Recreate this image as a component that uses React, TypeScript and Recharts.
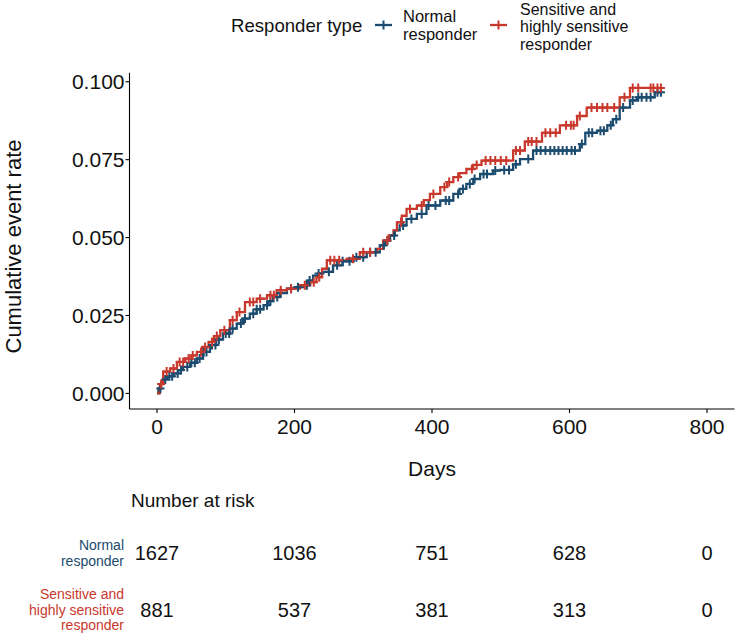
import { ComposedChart, Line, Scatter, XAxis, YAxis } from "recharts";

const BLUE = "#1B4B6E";
const RED = "#C8382C";
const FONT = '"Liberation Sans", Arial, Helvetica, sans-serif';

// Kaplan-Meier step points (day, cumulative event rate)
const normalDays = [0, 2, 6, 9, 15, 24, 31, 38, 48, 58, 67, 77, 86, 96, 106, 116, 125, 135, 145, 155, 162, 169, 179, 189, 200, 213, 220, 227, 235, 242, 256, 270, 286, 305, 324, 332, 339, 346, 353, 363, 378, 392, 412, 431, 440, 450, 460, 470, 489, 499, 518, 528, 547, 615, 623, 640, 655, 663, 673, 688, 698, 724, 735];
const normalRate = [0, 0.0016, 0.0032, 0.0045, 0.0055, 0.0064, 0.0075, 0.0085, 0.0098, 0.0112, 0.0133, 0.0155, 0.0173, 0.0192, 0.0208, 0.0224, 0.024, 0.0256, 0.027, 0.0283, 0.0296, 0.0309, 0.0322, 0.0336, 0.0341, 0.0347, 0.0362, 0.0378, 0.0385, 0.039, 0.0411, 0.0424, 0.0437, 0.0453, 0.0475, 0.049, 0.0507, 0.0523, 0.0539, 0.056, 0.0576, 0.0603, 0.0619, 0.064, 0.0656, 0.0672, 0.0688, 0.0704, 0.0715, 0.0717, 0.0735, 0.0752, 0.0779, 0.08, 0.0836, 0.0843, 0.086, 0.088, 0.0917, 0.094, 0.095, 0.0966, 0.0966];

const sensDays = [0, 4, 9, 19, 29, 41, 50, 58, 66, 75, 83, 92, 106, 116, 128, 145, 160, 174, 189, 208, 223, 232, 240, 247, 276, 295, 320, 329, 337, 344, 349, 356, 363, 378, 388, 397, 412, 422, 431, 440, 450, 460, 472, 518, 535, 560, 586, 611, 625, 673, 688, 735];
const sensRate = [0, 0.003, 0.007, 0.008, 0.0101, 0.0112, 0.0122, 0.0133, 0.0149, 0.0165, 0.0184, 0.0203, 0.0235, 0.0261, 0.0293, 0.0304, 0.0315, 0.0331, 0.0336, 0.0347, 0.0357, 0.0373, 0.04, 0.0427, 0.0432, 0.0453, 0.0464, 0.0491, 0.0507, 0.0523, 0.0549, 0.057, 0.0592, 0.0603, 0.062, 0.064, 0.0662, 0.0678, 0.0694, 0.0707, 0.072, 0.0733, 0.0747, 0.0779, 0.0808, 0.0836, 0.086, 0.089, 0.0917, 0.095, 0.098, 0.098];

// censoring times
const normalCensor = [5, 12, 18, 22, 30, 35, 44, 50, 55, 62, 68, 72, 80, 85, 90, 100, 105, 110, 122, 128, 140, 145, 150, 160, 165, 175, 180, 195, 205, 218, 222, 235, 250, 262, 270, 280, 290, 300, 310, 318, 330, 335, 345, 358, 370, 385, 395, 405, 420, 425, 438, 445, 455, 462, 475, 480, 492, 505, 512, 522, 540, 552, 558, 565, 572, 578, 584, 590, 596, 603, 608, 618, 628, 633, 645, 650, 660, 668, 678, 692, 700, 705, 712, 718, 728, 733];
const sensCensor = [6, 14, 24, 33, 38, 46, 52, 64, 70, 80, 87, 98, 110, 120, 135, 140, 150, 165, 170, 180, 195, 215, 228, 236, 252, 258, 265, 285, 300, 310, 335, 355, 368, 385, 402, 418, 425, 438, 458, 465, 478, 485, 492, 500, 508, 522, 528, 540, 545, 552, 565, 572, 580, 595, 602, 606, 615, 632, 640, 648, 655, 665, 680, 692, 700, 718, 722, 728, 733];

const xTicks = [0, 200, 400, 600, 800];
const yTicks = [0, 0.025, 0.05, 0.075, 0.1];

// number at risk table
const riskDays = [0, 200, 400, 600, 800];
const normalRisk = [1627, 1036, 751, 628, 0];
const sensRisk = [881, 537, 381, 313, 0];

const toSteps = (days: number[], rates: number[]) => days.map((d, i) => ({ day: d, rate: rates[i] }));
const rateAt = (days: number[], rates: number[], t: number) => {
  let r = rates[0];
  for (let i = 0; i < days.length; i++) if (days[i] <= t) r = rates[i];
  return r;
};

const normalSteps = toSteps(normalDays, normalRate);
const sensSteps = toSteps(sensDays, sensRate);
const normalMarks = normalCensor.map(t => ({ day: t, rate: rateAt(normalDays, normalRate, t) }));
const sensMarks = sensCensor.map(t => ({ day: t, rate: rateAt(sensDays, sensRate, t) }));

const riskRows = [
  ...riskDays.map((d, i) => ({ day: d, row: 1, n: normalRisk[i] })),
  ...riskDays.map((d, i) => ({ day: d, row: 0, n: sensRisk[i] })),
];

const plus = (color: string) => (props: any) => {
  const { cx, cy } = props;
  if (cx == null || cy == null) return <g />;
  return (
    <path
      d={`M${cx - 4},${cy}H${cx + 4}M${cx},${cy - 4.5}V${cy + 4.5}`}
      stroke={color}
      strokeWidth={2}
      fill="none"
    />
  );
};

const riskText = (props: any) => {
  const { cx, cy, payload } = props;
  if (cx == null) return <g />;
  return (
    <text x={cx} y={cy} dy="0.35em" textAnchor="middle" fontSize={20} fill="#111" fontFamily={FONT}>
      {payload.n}
    </text>
  );
};

const rowLabels: Record<number, { lines: string[]; color: string; offsets: number[] }> = {
  1: { lines: ["Normal", "responder"], color: BLUE, offsets: [-7.5, 8] },
  0: { lines: ["Sensitive and", "highly sensitive", "responder"], color: RED, offsets: [-15.5, 0, 15.5] },
};

const RowTick = (props: any) => {
  const { x, y, payload } = props;
  const lab = rowLabels[payload.value];
  if (!lab) return <g />;
  return (
    <g>
      {lab.lines.map((l, i) => (
        <text key={i} x={x} y={y + lab.offsets[i]} dy="0.35em" textAnchor="end" fontSize={14} fill={lab.color} fontFamily={FONT}>
          {l}
        </text>
      ))}
    </g>
  );
};

const tickStyle = { fontSize: 21, fill: "#111", fontFamily: FONT };

export default function App() {
  return (
    <div style={{ position: "absolute", left: 0, top: 0, width: 735, height: 634, background: "#fff", fontFamily: FONT }}>
      <div style={{ position: "absolute", left: 0, top: 0 }}>
        <ComposedChart width={735} height={480} margin={{ top: 72.7, right: 0.5, bottom: 0, left: 0 }}>
          <XAxis
            type="number"
            dataKey="day"
            domain={[-40, 840]}
            ticks={xTicks}
            allowDataOverflow
            height={71}
            stroke="#000"
            strokeWidth={1.1}
            tickSize={4}
            tickMargin={6}
            tick={tickStyle}
            interval={0}
            label={{ value: "Days", position: "insideBottom", offset: 4, fontSize: 21, fill: "#111", fontFamily: FONT }}
          />
          <YAxis
            type="number"
            dataKey="rate"
            domain={[-0.005, 0.1029]}
            ticks={yTicks}
            allowDataOverflow
            width={129.5}
            stroke="#000"
            strokeWidth={1.1}
            tickSize={4}
            tickMargin={1}
            tick={tickStyle}
            interval={0}
            tickFormatter={(v: number) => v.toFixed(3)}
          />
          <Line data={normalSteps} dataKey="rate" type="stepAfter" stroke={BLUE} strokeWidth={2.3} dot={false} isAnimationActive={false} />
          <Line data={sensSteps} dataKey="rate" type="stepAfter" stroke={RED} strokeWidth={2.3} dot={false} isAnimationActive={false} />
          <Scatter data={normalMarks} shape={plus(BLUE)} isAnimationActive={false} />
          <Scatter data={sensMarks} shape={plus(RED)} isAnimationActive={false} />
        </ComposedChart>
      </div>
      <div style={{ position: "absolute", left: 0, top: 480 }}>
        <ComposedChart width={735} height={154} margin={{ top: 0, right: 0.5, bottom: 0, left: 0 }}>
          <XAxis type="number" dataKey="day" domain={[-40, 840]} hide />
          <YAxis
            type="number"
            dataKey="row"
            domain={[-0.42, 2.28]}
            ticks={[0, 1]}
            interval={0}
            width={129.5}
            axisLine={false}
            tickLine={false}
            tickSize={0}
            tickMargin={5.5}
            tick={<RowTick />}
          />
          <Scatter data={riskRows} shape={riskText} isAnimationActive={false} />
        </ComposedChart>
      </div>
      <svg width={735} height={634} style={{ position: "absolute", left: 0, top: 0, pointerEvents: "none" }}>
        <text x={13.5} y={246.5} transform="rotate(-90 13.5 246.5)" textAnchor="middle" dy="0.35em" fontSize={22} fill="#111" fontFamily={FONT}>
          Cumulative event rate
        </text>
        <text x={131} y={500} dy="0.35em" fontSize={19} fill="#111" fontFamily={FONT}>
          Number at risk
        </text>
        <text x={231} y={25} dy="0.35em" fontSize={18.6} fill="#111" fontFamily={FONT}>
          Responder type
        </text>
        <line x1={375} x2={392} y1={25} y2={25} stroke={BLUE} strokeWidth={2.3} />
        <path d="M379.5,25H387.5M383.5,20.5V29.5" stroke={BLUE} strokeWidth={2} fill="none" />
        <text x={403} y={16.5} dy="0.35em" fontSize={16.5} fill="#111" fontFamily={FONT}>Normal</text>
        <text x={403} y={34} dy="0.35em" fontSize={16.5} fill="#111" fontFamily={FONT}>responder</text>
        <line x1={490} x2={507} y1={25} y2={25} stroke={RED} strokeWidth={2.3} />
        <path d="M494.5,25H502.5M498.5,20.5V29.5" stroke={RED} strokeWidth={2} fill="none" />
        <text x={520} y={9} dy="0.35em" fontSize={16} fill="#111" fontFamily={FONT}>Sensitive and</text>
        <text x={520} y={26.5} dy="0.35em" fontSize={16} fill="#111" fontFamily={FONT}>highly sensitive</text>
        <text x={520} y={44} dy="0.35em" fontSize={16} fill="#111" fontFamily={FONT}>responder</text>
      </svg>
    </div>
  );
}
